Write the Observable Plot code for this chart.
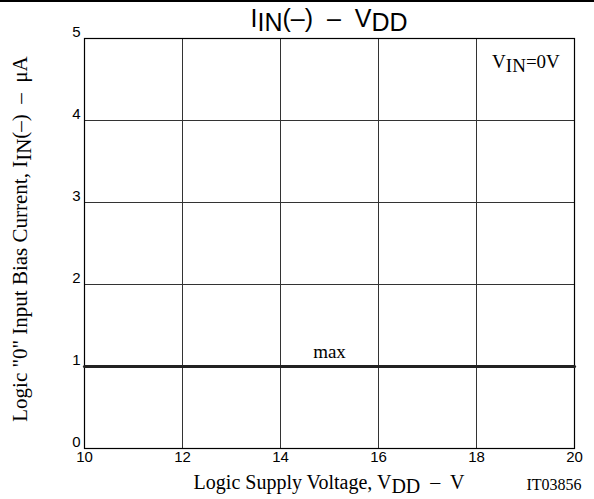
<!DOCTYPE html>
<html>
<head>
<meta charset="utf-8">
<script src="https://cdn.jsdelivr.net/npm/d3@7"></script>
<script src="https://cdn.jsdelivr.net/npm/@observablehq/plot@0.6"></script>
<style>
  html, body { margin: 0; padding: 0; background: #fff; }
  #chart svg { display: block; }
</style>
</head>
<body>
<div id="chart"></div>
<script>
// Data
const xTicks = [10, 12, 14, 16, 18, 20];
const yTicks = [0, 1, 2, 3, 4, 5];
const vdd = [10, 20];
const iinMax = [1, 1];
const curveLabel = "max";
const conditionLabel = ["V", "IN", "=0V"];
const figureId = "IT03856";

const data = vdd.map((v, i) => ({ vdd: v, iin: iinMax[i] }));

const SERIF = "'Liberation Serif', 'Times New Roman', serif";
const SANS = "'Liberation Sans', Arial, sans-serif";

const W = 594, H = 499;
const plot = Plot.plot({
  width: W,
  height: H,
  marginLeft: 84,
  marginRight: 20,
  marginTop: 38,
  marginBottom: 51,
  style: { fontFamily: SANS, fontSize: "14px", color: "#000", background: "#fff" },
  x: { domain: [10, 20], axis: null },
  y: { domain: [0, 5], axis: null },
  marks: [
    Plot.text(xTicks, { x: d => d, frameAnchor: "bottom", dy: 13, text: d => String(d), fontFamily: SANS, fontSize: 15, fill: "#000" }),
    Plot.text(yTicks, { y: d => d, frameAnchor: "left", textAnchor: "end", dx: -4, dy: -6, text: d => String(d), fontFamily: SANS, fontSize: 15, fill: "#000" }),
    Plot.ruleX(xTicks.slice(1, -1), { stroke: "#333", strokeWidth: 1 }),
    Plot.ruleY(yTicks.slice(1, -1), { stroke: "#333", strokeWidth: 1 }),
    Plot.frame({ stroke: "#000", strokeWidth: 1.2 }),
    Plot.line(data, { x: "vdd", y: "iin", stroke: "#222", strokeWidth: 3.2 }),
    Plot.text([curveLabel], { x: () => 15, y: () => 1, text: d => d, dy: -15, fontFamily: SERIF, fontSize: 19, fill: "#000" })
  ]
});

document.getElementById("chart").appendChild(plot);

const svg = d3.select(plot);
const sx = plot.scale("x"), sy = plot.scale("y");
const x0 = sx.apply(10), x1 = sx.apply(20);
const cx = (x0 + x1) / 2;

// top rule across the page
svg.append("line").attr("x1", 0).attr("x2", W).attr("y1", 1).attr("y2", 1)
  .attr("stroke", "#000").attr("stroke-width", 2);

// Title
const title = svg.append("text")
  .attr("x", cx).attr("y", 27)
  .attr("text-anchor", "middle")
  .attr("font-family", SANS)
  .attr("font-size", 25).attr("fill", "#000");
title.append("tspan").text("I");
title.append("tspan").attr("dy", 4).text("IN");
title.append("tspan").attr("dy", -4).text("(–)  –  V");
title.append("tspan").attr("dy", 4).text("DD");

// Condition label
const cond = svg.append("text")
  .attr("x", sx.apply(19.02)).attr("y", sy.apply(4.64))
  .attr("text-anchor", "middle")
  .attr("font-family", SERIF)
  .attr("font-size", 19).attr("fill", "#000");
cond.append("tspan").text(conditionLabel[0]);
cond.append("tspan").attr("dy", 4).text(conditionLabel[1]);
cond.append("tspan").attr("dy", -4).text(conditionLabel[2]);

// X axis label
const xl = svg.append("text")
  .attr("x", cx).attr("y", 489)
  .attr("text-anchor", "middle")
  .attr("font-family", SERIF)
  .attr("font-size", 20).attr("fill", "#000");
xl.append("tspan").text("Logic Supply Voltage, V");
xl.append("tspan").attr("dy", 4).text("DD");
xl.append("tspan").attr("dy", -4).text("  –  V");

// Figure id
svg.append("text")
  .attr("x", 554).attr("y", 490)
  .attr("text-anchor", "middle")
  .attr("font-family", SERIF)
  .attr("font-size", 16).attr("fill", "#000")
  .text(figureId);

// Y axis label
const yl = svg.append("text")
  .attr("transform", `translate(27,${(sy.apply(0) + sy.apply(5)) / 2 - 4}) rotate(-90)`)
  .attr("text-anchor", "middle")
  .attr("font-family", SERIF)
  .attr("font-size", 21).attr("fill", "#000");
yl.append("tspan").text("Logic \"0\" Input Bias Current, I");
yl.append("tspan").attr("dy", 4).text("IN");
yl.append("tspan").attr("dy", -4).text("(–)  –  μA");
</script>
</body>
</html>
